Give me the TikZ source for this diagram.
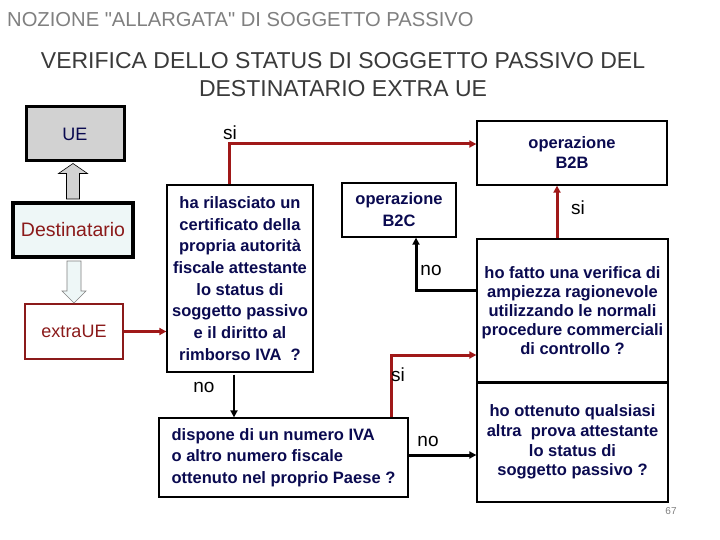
\documentclass[tikz,border=0pt]{standalone}
\usepackage{fontspec}
\setmainfont{Liberation Sans}
\newfontfamily\rawfont{Liberation Sans}[Ligatures=TeXOff]
\usetikzlibrary{arrows.meta,calc}
\definecolor{navy}{HTML}{0A0A50}
\definecolor{dred}{HTML}{A01818}
\definecolor{tred}{HTML}{8B1A1A}
\definecolor{titlegray}{HTML}{808080}
\definecolor{subgray}{HTML}{3A3A3A}
\definecolor{uegray}{HTML}{D2D2D2}
\definecolor{paleblue}{HTML}{EEF7F7}
\begin{document}
\begin{tikzpicture}[x=1pt,y=-1pt,
  box/.style={draw=black, line width=1.3pt, fill=white, inner sep=0pt, align=center,
    text=navy, font=\bfseries\fontsize{16.5}{21.7}\selectfont},
  lab/.style={font=\fontsize{19}{22}\selectfont, inner sep=0pt, text=black},
  redarrow/.style={draw=dred, line width=3pt, -{Triangle[length=7pt,width=7pt]}},
  blackarrow/.style={draw=black, line width=3pt, -{Triangle[length=7pt,width=7pt]}}]
\useasboundingbox (0,0) rectangle (720,540);
\fill[white] (0,0) rectangle (720,540);

% titles
\node[anchor=base west, inner sep=0pt, text=titlegray, font=\rawfont\fontsize{20.2}{22}\selectfont] (title) at (7,27) {NOZIONE "ALLARGATA" DI SOGGETTO PASSIVO};
\node[anchor=base, inner sep=0pt, text=subgray, font=\fontsize{23}{26}\selectfont] (sub1) at (343,69) {VERIFICA DELLO STATUS DI SOGGETTO PASSIVO DEL};
\node[anchor=base, inner sep=0pt, text=subgray, font=\fontsize{23}{26}\selectfont] (sub2) at (343,97) {DESTINATARIO EXTRA UE};

% left column
\node[box, font=\fontsize{18}{21}\selectfont, line width=3pt, fill=uegray, minimum width=98pt, minimum height=54pt] (UE) at (75,134) {UE};
\node[box, font=\fontsize{19.5}{22}\selectfont, line width=4pt, fill=paleblue, text=tred, minimum width=120pt, minimum height=54pt] (dest) at (73,230) {Destinatario};
\node[box, font=\fontsize{18}{21}\selectfont, draw=tred, line width=2pt, text=tred, minimum width=98pt, minimum height=55pt] (extra) at (74,331.5) {extraUE};

% block arrows
\coordinate (upb) at ($(dest.north)+(0,-2)$);
\coordinate (upt) at (upb |- UE.south);
\draw[fill=uegray, draw=black, line width=0.6pt]
  ($(upb)+(-6.5,0)$) -- ($(upt)+(-6.5,11)$) -- ($(upt)+(-14.5,11)$) -- ($(upt)+(0,1)$)
  -- ($(upt)+(14.5,11)$) -- ($(upt)+(6.5,11)$) -- ($(upb)+(6.5,0)$) -- cycle;
\coordinate (dnb) at ($(dest.south)+(1,2)$);
\coordinate (dnt) at (dnb |- extra.north);
\draw[fill=paleblue, draw=gray, line width=0.6pt]
  ($(dnb)+(-7,0)$) -- ($(dnt)+(-7,-12)$) -- ($(dnt)+(-12,-12)$) -- ($(dnt)+(0,0)$)
  -- ($(dnt)+(12,-12)$) -- ($(dnt)+(7,-12)$) -- ($(dnb)+(7,0)$) -- cycle;

% question boxes
\node[box, minimum width=146pt, minimum height=187pt] (Q1) at (240,278.5)
  {ha rilasciato un\\certificato della\\propria autorità\\fiscale attestante\\lo status di\\soggetto passivo\\e il diritto al\\rimborso IVA\ \ ?};
\node[box, font=\bfseries\fontsize{16.5}{20}\selectfont, minimum width=190pt, minimum height=64pt] (B2B) at (572,153) {operazione\\B2B};
\node[box, font=\bfseries\fontsize{16.5}{22}\selectfont, minimum width=114pt, minimum height=54pt] (B2C) at (399,210) {operazione\\B2C};
\node[box, font=\bfseries\fontsize{16.5}{19}\selectfont, minimum width=191pt, minimum height=143pt] (Q3) at (572.5,310.5)
  {ho fatto una verifica di\\ampiezza ragionevole\\utilizzando le normali\\procedure commerciali\\di controllo ?};
\node[box, font=\bfseries\fontsize{16.5}{19.7}\selectfont, minimum width=191pt, minimum height=120pt] (Q4) at (572.5,442)
  {ho ottenuto qualsiasi\\altra\ \ prova attestante\\lo status di\\soggetto passivo ?};
\draw[line width=2.5pt] (Q3.south west) -- (Q3.south east);
\node[box, font=\bfseries\fontsize{16.5}{21.5}\selectfont, align=left, inner xsep=0pt, minimum width=249pt, minimum height=79pt] (disp) at (283.5,457.5)
  {dispone di un numero IVA\\o altro numero fiscale\\ottenuto nel proprio Paese ?};

% connectors
\draw[redarrow] (extra.east) -- (extra.east -| Q1.west);
\draw[redarrow] ($(Q1.north)+(-11,0)$) |- ($(B2B.west)+(0,-9)$);
\draw[redarrow] ($(Q3.north)+(-15.5,0)$) -- ($(B2B.south)+(-15,0)$);
\draw[blackarrow] ($(Q3.west)+(0,-20.5)$) -| ($(B2C.south)+(17,0)$);
\coordinate (q1s) at ($(Q1.south)+(-6,2)$);
\draw[blackarrow, line width=2.5pt] (q1s) -- (q1s |- disp.north);
\draw[redarrow] ($(disp.north)+(107.5,0)$) |- ($(Q3.west)+(0,44.5)$);
\coordinate (de) at ($(disp.east)+(0,-2.5)$);
\draw[blackarrow] (de) -- (de -| Q4.west);

% labels
\node[lab] (l1) at (230,133) {si};
\node[lab] (l2) at (578,208) {si};
\node[lab] (l3) at (431,270) {no};
\node[lab] (l4) at (204,387) {no};
\node[lab] (l5) at (398,375) {si};
\node[lab] (l6) at (428,441) {no};

\node[inner sep=0pt, text=titlegray, font=\fontsize{10}{12}\selectfont] (page) at (671,511) {67};
\end{tikzpicture}
\end{document}
